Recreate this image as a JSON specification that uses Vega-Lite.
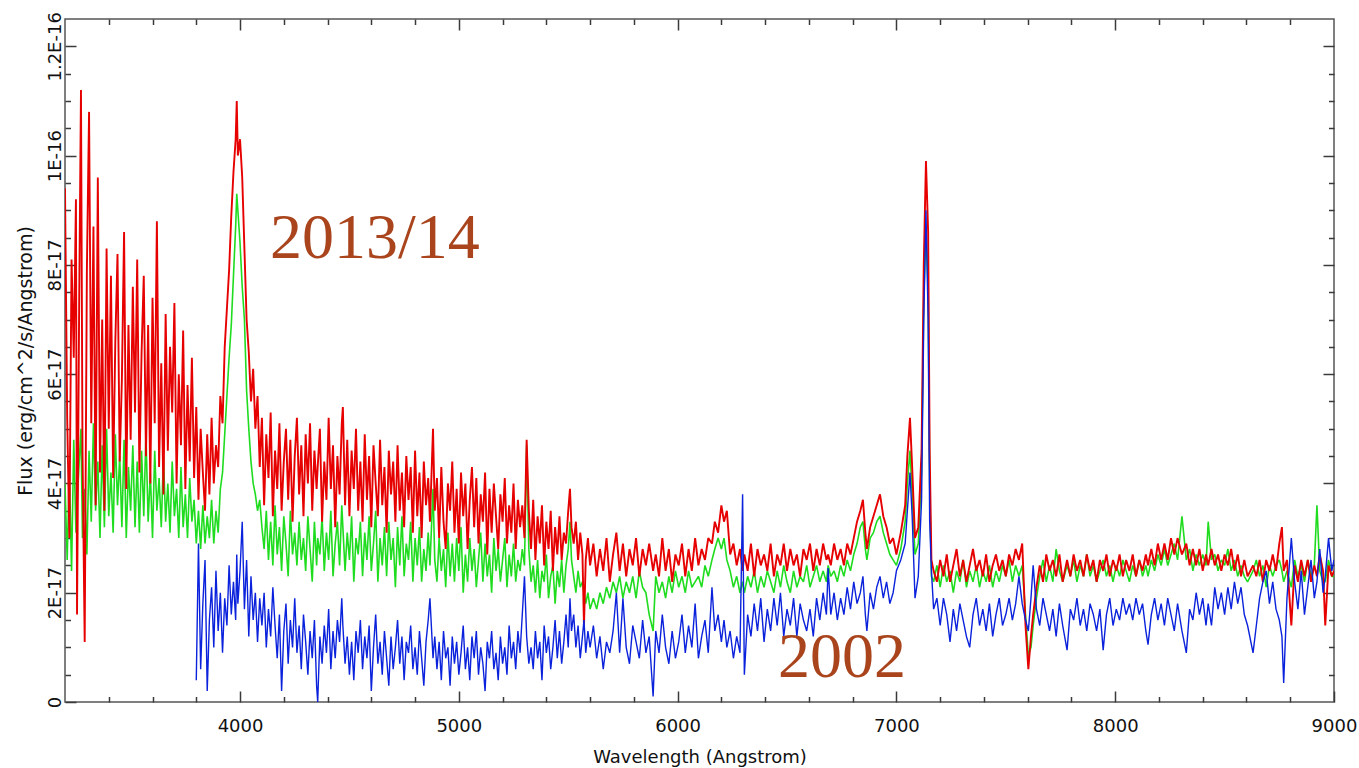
{
"$schema": "https://vega.github.io/schema/vega-lite/v6.json",
"width": 1269, "height": 683,
"autosize": {"type": "none"},
"padding": {"left": 65, "top": 19, "right": 25, "bottom": 66},
"background": "white",
"config": {
 "view": {"stroke": "#555555", "strokeWidth": 1.5},
 "axis": {"grid": false, "domain": false, "tickColor": "#3a3a3a", "tickWidth": 1.5, "labelFont": "DejaVu Sans", "labelFontSize": 18, "labelColor": "#111111", "titleFont": "DejaVu Sans", "titleFontSize": 18, "titleFontWeight": "normal", "titleColor": "#111111", "labelOverlap": false, "labelFlush": false, "labelBound": false}
},
"data": {"values": [
{"w":3200,"r":9.4,"g":4.0},{"w":3210,"r":5.2,"g":2.6},{"w":3220,"r":3.0,"g":4.3},{"w":3230,"r":8.1,"g":2.4},{"w":3240,"r":6.3,"g":4.8},{"w":3250,"r":9.2,"g":3.1},{"w":3255,"r":1.6,"g":3.6},{"w":3265,"r":7.4,"g":4.4},{"w":3273,"r":11.2,"g":5.0},{"w":3280,"r":4.6,"g":3.0},{"w":3290,"r":1.1,"g":3.9},{"w":3300,"r":7.9,"g":2.7},{"w":3310,"r":10.8,"g":4.6},{"w":3320,"r":5.1,"g":3.3},{"w":3330,"r":8.7,"g":5.1},{"w":3340,"r":3.6,"g":3.5},{"w":3350,"r":9.6,"g":4.4},{"w":3360,"r":4.2,"g":3.0},{"w":3370,"r":7.0,"g":4.7},{"w":3380,"r":3.5,"g":3.2},{"w":3390,"r":8.3,"g":5.0},{"w":3400,"r":5.0,"g":3.4},
{"w":3410,"r":7.8,"g":4.2},{"w":3420,"r":4.1,"g":3.1},{"w":3430,"r":6.6,"g":4.9},{"w":3440,"r":8.2,"g":3.6},{"w":3450,"r":4.4,"g":4.5},{"w":3460,"r":5.9,"g":3.2},{"w":3470,"r":8.6,"g":4.8},{"w":3480,"r":3.9,"g":3.0},{"w":3490,"r":6.9,"g":4.3},{"w":3500,"r":4.8,"g":3.5},{"w":3510,"r":7.6,"g":4.7},{"w":3520,"r":5.3,"g":3.2},{"w":3530,"r":8.1,"g":4.4},{"w":3540,"r":4.2,"g":3.1},{"w":3550,"r":6.4,"g":4.6},{"w":3560,"r":7.8,"g":3.4},{"w":3570,"r":4.5,"g":4.9},{"w":3580,"r":6.9,"g":3.3},{"w":3590,"r":4.0,"g":4.2},{"w":3600,"r":7.4,"g":3.0},{"w":3610,"r":5.1,"g":4.6},{"w":3620,"r":8.8,"g":3.5},{"w":3630,"r":4.3,"g":4.1},{"w":3640,"r":6.2,"g":3.2},{"w":3650,"r":3.8,"g":4.5},{"w":3660,"r":7.1,"g":3.3},{"w":3670,"r":4.6,"g":4.0},{"w":3680,"r":6.5,"g":3.1},{"w":3690,"r":5.3,"g":4.4},{"w":3700,"r":7.3,"g":3.4},{"w":3710,"r":4.0,"g":3.9},{"w":3720,"r":6.0,"g":3.0},{"w":3730,"r":4.7,"g":4.3},{"w":3740,"r":6.8,"g":3.2},{"w":3750,"r":3.9,"g":3.8},{"w":3760,"r":5.8,"g":3.0},{"w":3770,"r":4.4,"g":4.1},{"w":3780,"r":6.3,"g":3.3},{"w":3790,"r":4.1,"g":3.7},
{"w":3800,"r":5.4,"g":2.9,"b":0.4},{"w":3810,"r":3.7,"g":3.5,"b":2.9},{"w":3820,"r":5.0,"g":2.8,"b":0.6},{"w":3830,"r":4.2,"g":3.6,"b":1.8},{"w":3840,"r":3.5,"g":2.9,"b":2.6},{"w":3850,"r":4.9,"g":3.4,"b":0.2},{"w":3860,"r":3.8,"g":3.0,"b":1.5},{"w":3870,"r":5.2,"g":3.7,"b":2.1},{"w":3880,"r":4.0,"g":2.9,"b":1.0},{"w":3890,"r":4.7,"g":3.5,"b":2.4},{"w":3900,"r":4.3,"g":3.1,"b":1.3},{"w":3910,"r":5.6,"g":3.9,"b":2.0},{"w":3920,"r":5.1,"g":4.2,"b":0.9},{"w":3930,"r":6.5,"g":4.9,"b":1.9},{"w":3940,"r":7.2,"g":5.6,"b":1.4},{"w":3950,"r":7.9,"g":6.3,"b":2.5},{"w":3960,"r":8.9,"g":6.9,"b":1.6},{"w":3970,"r":9.7,"g":7.8,"b":2.2},{"w":3980,"r":10.3,"g":8.7,"b":1.5},{"w":3985,"r":11.0,"g":9.3,"b":2.7},{"w":3990,"r":10.0,"g":9.0,"b":1.8},{"w":4000,"r":10.3,"g":8.4,"b":2.4},{"w":4010,"r":9.6,"g":7.6,"b":3.3},{"w":4020,"r":8.3,"g":7.0,"b":1.7},{"w":4030,"r":7.0,"g":5.7,"b":2.6},{"w":4040,"r":6.4,"g":5.0,"b":1.2},{"w":4050,"r":5.5,"g":4.4,"b":2.3},{"w":4060,"r":6.1,"g":4.0,"b":1.5},{"w":4070,"r":5.0,"g":3.8,"b":2.0},{"w":4080,"r":5.6,"g":3.5,"b":1.1},{"w":4090,"r":4.3,"g":3.7,"b":1.9},{"w":4100,"r":5.2,"g":3.2,"b":1.4},
{"w":4110,"r":3.6,"g":2.8,"b":2.0},{"w":4120,"r":4.9,"g":3.5,"b":1.0},{"w":4130,"r":4.1,"g":2.6,"b":1.7},{"w":4140,"r":5.3,"g":3.3,"b":1.2},{"w":4150,"r":3.4,"g":2.5,"b":2.1},{"w":4160,"r":4.6,"g":3.6,"b":1.4},{"w":4170,"r":3.9,"g":2.7,"b":0.8},{"w":4180,"r":5.1,"g":3.2,"b":1.6},{"w":4190,"r":3.5,"g":2.4,"b":0.2},{"w":4200,"r":4.4,"g":3.4,"b":1.3},{"w":4210,"r":5.0,"g":2.9,"b":1.8},{"w":4220,"r":3.7,"g":2.3,"b":0.7},{"w":4230,"r":4.8,"g":3.5,"b":1.5},{"w":4240,"r":3.3,"g":2.7,"b":1.0},{"w":4250,"r":4.5,"g":3.1,"b":1.9},{"w":4260,"r":5.2,"g":2.5,"b":0.9},{"w":4270,"r":3.8,"g":3.3,"b":1.4},{"w":4280,"r":4.7,"g":2.6,"b":0.6},{"w":4290,"r":3.4,"g":3.0,"b":1.6},{"w":4300,"r":4.9,"g":2.4,"b":1.1},{"w":4310,"r":4.0,"g":3.4,"b":0.5},{"w":4320,"r":5.1,"g":2.8,"b":1.3},{"w":4330,"r":3.5,"g":2.2,"b":0.8},{"w":4340,"r":4.6,"g":3.3,"b":1.5},{"w":4350,"r":3.9,"g":2.5,"b":0.3},{"w":4355,"r":4.3,"g":3.0,"b":0.0},{"w":4365,"r":5.0,"g":2.7,"b":1.2},{"w":4375,"r":3.3,"g":3.4,"b":0.7},{"w":4385,"r":4.4,"g":2.4,"b":1.4},{"w":4395,"r":3.7,"g":3.1,"b":0.9},{"w":4405,"r":5.2,"g":2.6,"b":1.7},{"w":4415,"r":3.9,"g":3.5,"b":0.6},{"w":4425,"r":4.7,"g":2.3,"b":1.3},{"w":4435,"r":3.2,"g":2.9,"b":0.8},{"w":4445,"r":4.5,"g":3.3,"b":1.5},{"w":4455,"r":3.8,"g":2.5,"b":1.1},{"w":4465,"r":5.1,"g":3.6,"b":1.9},{"w":4470,"r":5.4,"g":3.2,"b":1.4},{"w":4480,"r":3.6,"g":2.4,"b":0.7},{"w":4490,"r":4.8,"g":3.1,"b":1.2},{"w":4500,"r":3.4,"g":2.6,"b":0.5},{"w":4510,"r":4.6,"g":3.4,"b":1.1},{"w":4520,"r":3.9,"g":2.2,"b":0.4},{"w":4530,"r":5.0,"g":3.0,"b":1.3},{"w":4540,"r":3.5,"g":2.7,"b":0.9},{"w":4550,"r":4.4,"g":3.3,"b":1.5},{"w":4560,"r":3.3,"g":2.3,"b":0.6},{"w":4570,"r":4.9,"g":3.1,"b":1.2},{"w":4580,"r":3.7,"g":2.6,"b":0.8},{"w":4590,"r":4.5,"g":3.4,"b":1.4},{"w":4600,"r":3.2,"g":2.4,"b":0.2},{"w":4610,"r":4.7,"g":2.9,"b":1.0},{"w":4620,"r":4.0,"g":3.5,"b":1.6},{"w":4630,"r":3.4,"g":2.2,"b":0.7},{"w":4640,"r":4.8,"g":3.0,"b":1.1},{"w":4650,"r":3.6,"g":2.5,"b":0.5},{"w":4660,"r":4.3,"g":3.2,"b":1.3},{"w":4670,"r":3.1,"g":2.3,"b":0.8},{"w":4680,"r":4.6,"g":3.3,"b":0.3},{"w":4690,"r":3.8,"g":2.6,"b":1.2},{"w":4700,"r":4.4,"g":3.0,"b":0.6},{"w":4710,"r":3.3,"g":2.1,"b":1.0},{"w":4720,"r":4.7,"g":3.2,"b":1.5},{"w":4730,"r":3.5,"g":2.5,"b":0.7},{"w":4740,"r":4.2,"g":3.4,"b":1.2},{"w":4750,"r":3.2,"g":2.3,"b":0.4},{"w":4760,"r":4.5,"g":2.9,"b":1.1},{"w":4770,"r":3.7,"g":2.6,"b":0.9},{"w":4780,"r":4.3,"g":3.3,"b":1.4},{"w":4790,"r":3.1,"g":2.2,"b":0.6},{"w":4800,"r":4.6,"g":3.0,"b":1.0},{"w":4810,"r":3.4,"g":2.5,"b":0.5},{"w":4820,"r":4.2,"g":3.2,"b":1.3},{"w":4830,"r":3.0,"g":2.2,"b":0.8},{"w":4840,"r":4.4,"g":2.8,"b":0.3},{"w":4850,"r":3.6,"g":2.4,"b":1.1},{"w":4860,"r":4.1,"g":3.1,"b":1.5},{"w":4868,"r":3.3,"g":2.5,"b":1.9},{"w":4882,"r":5.0,"g":3.9,"b":0.8},{"w":4890,"r":3.5,"g":2.6,"b":1.2},
{"w":4900,"r":4.1,"g":2.2,"b":0.6},{"w":4910,"r":3.0,"g":3.0,"b":1.1},{"w":4920,"r":4.3,"g":2.4,"b":0.4},{"w":4930,"r":3.3,"g":2.8,"b":1.3},{"w":4940,"r":2.8,"g":2.1,"b":0.8},{"w":4950,"r":4.0,"g":3.1,"b":1.0},{"w":4960,"r":3.5,"g":2.3,"b":0.3},{"w":4970,"r":4.4,"g":2.9,"b":1.2},{"w":4980,"r":3.1,"g":2.2,"b":0.7},{"w":4990,"r":3.9,"g":3.0,"b":1.1},{"w":5000,"r":2.9,"g":2.4,"b":0.5},{"w":5010,"r":4.2,"g":3.2,"b":0.9},{"w":5020,"r":3.4,"g":2.0,"b":1.4},{"w":5030,"r":4.0,"g":2.7,"b":0.6},{"w":5040,"r":2.8,"g":2.2,"b":1.0},{"w":5050,"r":3.7,"g":3.0,"b":0.4},{"w":5060,"r":4.3,"g":2.4,"b":1.2},{"w":5070,"r":3.2,"g":2.8,"b":0.8},{"w":5080,"r":4.1,"g":2.1,"b":1.3},{"w":5090,"r":2.9,"g":2.6,"b":0.5},{"w":5100,"r":3.8,"g":3.1,"b":1.0},{"w":5110,"r":3.3,"g":2.2,"b":0.7},{"w":5120,"r":4.2,"g":2.9,"b":0.2},{"w":5130,"r":2.7,"g":2.3,"b":1.1},{"w":5140,"r":3.9,"g":2.7,"b":0.8},{"w":5150,"r":3.1,"g":2.0,"b":1.3},{"w":5160,"r":4.0,"g":3.0,"b":0.6},{"w":5170,"r":3.4,"g":2.4,"b":0.9},{"w":5180,"r":2.8,"g":2.8,"b":0.4},{"w":5190,"r":3.8,"g":2.2,"b":1.2},{"w":5200,"r":3.3,"g":2.6,"b":0.7},{"w":5210,"r":4.1,"g":3.0,"b":1.0},{"w":5220,"r":2.9,"g":2.1,"b":0.5},{"w":5230,"r":3.6,"g":2.7,"b":1.4},{"w":5240,"r":3.1,"g":2.3,"b":0.8},{"w":5250,"r":4.0,"g":2.9,"b":1.1},{"w":5260,"r":2.8,"g":2.2,"b":0.6},{"w":5270,"r":3.7,"g":2.6,"b":1.3},{"w":5280,"r":3.2,"g":2.4,"b":0.9},{"w":5290,"r":3.6,"g":2.8,"b":1.6},{"w":5300,"r":3.0,"g":2.5,"b":2.3},{"w":5310,"r":4.8,"g":4.7,"b":1.2},{"w":5320,"r":3.5,"g":2.8,"b":0.7},
{"w":5330,"r":2.8,"g":2.2,"b":1.0},{"w":5340,"r":3.7,"g":2.5,"b":0.6},{"w":5350,"r":2.6,"g":2.0,"b":1.3},{"w":5360,"r":3.4,"g":2.6,"b":0.8},{"w":5370,"r":2.9,"g":1.9,"b":1.1},{"w":5380,"r":3.6,"g":2.4,"b":0.4},{"w":5390,"r":2.5,"g":2.2,"b":1.4},{"w":5400,"r":3.3,"g":2.7,"b":0.9},{"w":5410,"r":2.8,"g":1.9,"b":1.2},{"w":5420,"r":3.5,"g":2.3,"b":0.6},{"w":5430,"r":2.4,"g":2.5,"b":1.0},{"w":5440,"r":3.2,"g":1.8,"b":1.5},{"w":5450,"r":2.7,"g":2.4,"b":0.8},{"w":5460,"r":3.4,"g":2.1,"b":1.3},{"w":5470,"r":2.6,"g":2.6,"b":0.7},{"w":5480,"r":3.1,"g":2.0,"b":1.1},{"w":5490,"r":2.9,"g":2.5,"b":1.6},{"w":5500,"r":3.5,"g":2.8,"b":1.0},{"w":5508,"r":3.9,"g":3.3,"b":1.9},{"w":5515,"r":3.2,"g":2.6,"b":1.3},{"w":5525,"r":2.9,"g":2.3,"b":1.6},{"w":5535,"r":3.3,"g":2.0,"b":1.0},{"w":5545,"r":2.6,"g":2.4,"b":1.4},{"w":5555,"r":3.1,"g":2.1,"b":0.8},{"w":5565,"r":2.7,"g":2.2,"b":1.2},{"w":5572,"r":1.4,"g":2.0,"b":1.5},{"w":5580,"r":2.6,"g":1.8,"b":0.9},{"w":5590,"r":3.0,"g":2.0,"b":1.3},{"w":5600,"r":2.5,"g":1.7,"b":1.0},
{"w":5615,"r":2.9,"g":1.9,"b":1.4},{"w":5630,"r":2.3,"g":1.7,"b":0.8},{"w":5645,"r":2.8,"g":2.0,"b":1.2},{"w":5660,"r":2.4,"g":1.8,"b":0.6},{"w":5675,"r":3.0,"g":2.1,"b":1.1},{"w":5690,"r":2.2,"g":1.9,"b":0.9},{"w":5705,"r":2.7,"g":2.2,"b":1.3},{"w":5720,"r":3.1,"g":2.0,"b":2.0},{"w":5735,"r":2.4,"g":2.3,"b":0.9},{"w":5750,"r":2.9,"g":1.9,"b":1.9},{"w":5765,"r":2.3,"g":2.2,"b":1.0},{"w":5780,"r":2.8,"g":2.0,"b":0.7},{"w":5795,"r":2.5,"g":2.3,"b":1.4},{"w":5810,"r":3.0,"g":1.9,"b":1.1},{"w":5825,"r":2.3,"g":2.4,"b":0.8},{"w":5840,"r":2.8,"g":2.1,"b":1.5},{"w":5855,"r":2.5,"g":2.0,"b":0.9},{"w":5870,"r":2.9,"g":1.6,"b":1.2},{"w":5888,"r":2.4,"g":1.3,"b":0.1},{"w":5900,"r":2.7,"g":2.3,"b":1.3},{"w":5915,"r":2.3,"g":2.0,"b":0.9},{"w":5930,"r":3.0,"g":2.2,"b":1.6},{"w":5945,"r":2.4,"g":1.9,"b":1.0},{"w":5960,"r":2.8,"g":2.3,"b":0.7},{"w":5975,"r":2.2,"g":2.0,"b":1.3},{"w":5990,"r":2.7,"g":2.4,"b":0.8},{"w":6005,"r":2.5,"g":2.1,"b":1.1},{"w":6020,"r":2.9,"g":2.3,"b":1.6},{"w":6035,"r":2.3,"g":2.0,"b":0.9},{"w":6050,"r":2.8,"g":2.4,"b":1.4},{"w":6065,"r":2.4,"g":2.1,"b":1.0},{"w":6080,"r":3.0,"g":2.2,"b":1.8},{"w":6095,"r":2.5,"g":2.3,"b":0.8},{"w":6110,"r":2.8,"g":2.1,"b":1.2},{"w":6125,"r":2.6,"g":2.5,"b":1.5},{"w":6140,"r":3.0,"g":2.3,"b":0.9},{"w":6157,"r":2.9,"g":2.6,"b":2.1},{"w":6170,"r":3.3,"g":2.8,"b":1.3},{"w":6185,"r":3.1,"g":3.0,"b":1.6},{"w":6200,"r":3.6,"g":2.8,"b":1.1},{"w":6212,"r":3.3,"g":3.0,"b":1.5},{"w":6225,"r":3.5,"g":2.6,"b":1.0},{"w":6240,"r":2.7,"g":2.4,"b":1.3},{"w":6255,"r":2.9,"g":2.1,"b":0.8},{"w":6270,"r":2.5,"g":2.3,"b":1.2},{"w":6285,"r":2.8,"g":2.0,"b":0.9},{"w":6297,"r":2.4,"g":2.2,"b":3.8},{"w":6305,"r":2.7,"g":2.0,"b":0.5},{"w":6320,"r":2.4,"g":2.3,"b":1.6},{"w":6335,"r":2.9,"g":2.1,"b":1.2},{"w":6350,"r":2.3,"g":2.4,"b":1.8},{"w":6365,"r":2.8,"g":2.0,"b":1.3},{"w":6380,"r":2.5,"g":2.3,"b":1.9},{"w":6395,"r":2.7,"g":2.1,"b":1.1},{"w":6410,"r":2.4,"g":2.4,"b":1.7},{"w":6425,"r":2.9,"g":2.2,"b":1.3},{"w":6440,"r":2.3,"g":2.0,"b":1.9},{"w":6455,"r":2.7,"g":2.4,"b":1.4},{"w":6470,"r":2.5,"g":2.1,"b":2.0},{"w":6485,"r":2.9,"g":2.5,"b":1.2},{"w":6500,"r":2.4,"g":2.2,"b":1.7},{"w":6515,"r":2.8,"g":2.0,"b":1.4},{"w":6530,"r":2.5,"g":2.4,"b":1.9},{"w":6545,"r":2.7,"g":2.1,"b":1.2},{"w":6560,"r":2.3,"g":2.3,"b":1.8},{"w":6575,"r":2.8,"g":2.2,"b":1.5},{"w":6590,"r":2.6,"g":2.5,"b":1.3},{"w":6605,"r":2.9,"g":2.1,"b":1.7},{"w":6620,"r":2.4,"g":2.3,"b":1.2},{"w":6635,"r":2.8,"g":2.5,"b":1.9},{"w":6650,"r":2.5,"g":2.2,"b":1.5},{"w":6665,"r":2.9,"g":2.4,"b":2.0},{"w":6680,"r":2.6,"g":2.2,"b":1.6},{"w":6688,"r":2.7,"g":2.5,"b":2.45},{"w":6700,"r":2.5,"g":2.3,"b":1.6},{"w":6715,"r":2.9,"g":2.4,"b":2.0},{"w":6730,"r":2.6,"g":2.2,"b":1.5},{"w":6745,"r":2.8,"g":2.5,"b":1.9},{"w":6760,"r":2.5,"g":2.3,"b":1.6},{"w":6775,"r":2.9,"g":2.6,"b":2.1},{"w":6790,"r":2.7,"g":2.4,"b":1.7},{"w":6805,"r":3.0,"g":2.7,"b":2.2},{"w":6820,"r":3.3,"g":2.9,"b":1.8},{"w":6835,"r":3.5,"g":3.2,"b":2.0},{"w":6847,"r":3.7,"g":3.3,"b":2.3},{"w":6858,"r":3.1,"g":2.8,"b":1.6},{"w":6865,"r":2.8,"g":2.6,"b":1.3},{"w":6880,"r":3.2,"g":3.0,"b":2.0},{"w":6895,"r":3.4,"g":3.1,"b":1.7},{"w":6910,"r":3.6,"g":3.3,"b":2.1},{"w":6925,"r":3.8,"g":3.4,"b":2.3},{"w":6940,"r":3.4,"g":3.1,"b":1.9},{"w":6955,"r":3.2,"g":2.9,"b":2.2},{"w":6970,"r":2.9,"g":2.7,"b":1.8},{"w":6985,"r":3.0,"g":2.6,"b":2.0},{"w":7000,"r":2.7,"g":2.5,"b":2.4},
{"w":7020,"r":3.1,"g":2.8,"b":2.6},{"w":7040,"r":3.6,"g":3.3,"b":2.9},{"w":7050,"r":4.5,"g":4.0,"b":3.5},{"w":7062,"r":5.2,"g":4.6,"b":4.2},{"w":7072,"r":4.3,"g":3.8,"b":3.4},{"w":7085,"r":3.0,"g":2.7,"b":1.9},{"w":7100,"r":3.2,"g":2.9,"b":2.3},{"w":7115,"r":4.6,"g":4.2,"b":3.7},{"w":7125,"r":8.0,"g":7.4,"b":7.0},{"w":7135,"r":9.9,"g":8.6,"b":9.0},{"w":7145,"r":8.6,"g":7.6,"b":7.0},{"w":7152,"r":4.6,"g":4.0,"b":3.3},{"w":7160,"r":2.6,"g":2.3,"b":2.4},{"w":7170,"r":2.4,"g":2.2,"b":1.7},{"w":7185,"r":2.2,"g":2.5,"b":1.9},
{"w":7200,"r":2.6,"g":2.1,"b":1.4},{"w":7215,"r":2.3,"g":2.5,"b":1.9},{"w":7230,"r":2.7,"g":2.2,"b":1.6},{"w":7245,"r":2.2,"g":2.4,"b":1.1},{"w":7260,"r":2.5,"g":2.0,"b":1.7},{"w":7275,"r":2.8,"g":2.4,"b":1.3},{"w":7290,"r":2.3,"g":2.2,"b":1.8},{"w":7305,"r":2.6,"g":2.6,"b":1.5},{"w":7320,"r":2.2,"g":2.1,"b":1.2},{"w":7335,"r":2.5,"g":2.4,"b":1.0},{"w":7350,"r":2.8,"g":2.2,"b":1.6},{"w":7365,"r":2.4,"g":2.5,"b":1.9},{"w":7380,"r":2.6,"g":2.1,"b":1.4},{"w":7395,"r":2.3,"g":2.4,"b":1.7},{"w":7410,"r":2.7,"g":2.2,"b":1.3},{"w":7425,"r":2.2,"g":2.5,"b":1.8},{"w":7440,"r":2.5,"g":2.1,"b":1.2},{"w":7455,"r":2.7,"g":2.4,"b":1.6},{"w":7470,"r":2.4,"g":2.2,"b":1.9},{"w":7485,"r":2.6,"g":2.5,"b":1.4},{"w":7500,"r":2.3,"g":2.3,"b":1.6},{"w":7515,"r":2.7,"g":2.6,"b":1.9},{"w":7530,"r":2.5,"g":2.2,"b":1.5},{"w":7545,"r":2.8,"g":2.5,"b":1.8},{"w":7560,"r":2.6,"g":2.3,"b":2.3},{"w":7575,"r":2.9,"g":2.5,"b":1.8},{"w":7590,"r":1.4,"g":1.6,"b":1.5},{"w":7603,"r":0.6,"g":0.85,"b":1.3},{"w":7615,"r":1.2,"g":1.0,"b":1.9},{"w":7625,"r":1.6,"g":1.4,"b":2.5},{"w":7640,"r":2.1,"g":1.9,"b":1.7},{"w":7655,"r":2.5,"g":2.3,"b":1.4},{"w":7670,"r":2.2,"g":2.6,"b":1.9},{"w":7685,"r":2.7,"g":2.2,"b":1.6},{"w":7700,"r":2.4,"g":2.5,"b":1.3},{"w":7715,"r":2.6,"g":2.2,"b":1.7},{"w":7730,"r":2.3,"g":2.8,"b":1.2},{"w":7745,"r":2.7,"g":2.4,"b":1.8},{"w":7760,"r":2.2,"g":2.2,"b":1.4},{"w":7780,"r":2.6,"g":2.5,"b":0.95},{"w":7795,"r":2.3,"g":2.3,"b":1.7},{"w":7810,"r":2.7,"g":2.6,"b":1.5},{"w":7825,"r":2.4,"g":2.2,"b":1.9},{"w":7840,"r":2.6,"g":2.5,"b":1.4},{"w":7855,"r":2.3,"g":2.3,"b":1.7},{"w":7870,"r":2.7,"g":2.7,"b":1.3},{"w":7885,"r":2.4,"g":2.3,"b":1.8},{"w":7900,"r":2.6,"g":2.5,"b":1.6},{"w":7915,"r":2.2,"g":2.2,"b":1.3},{"w":7930,"r":2.6,"g":2.4,"b":1.7},{"w":7945,"r":2.4,"g":2.6,"b":0.95},{"w":7960,"r":2.7,"g":2.3,"b":1.6},{"w":7975,"r":2.3,"g":2.5,"b":1.9},{"w":7990,"r":2.6,"g":2.2,"b":1.4},
{"w":8005,"r":2.4,"g":2.5,"b":1.7},{"w":8020,"r":2.7,"g":2.3,"b":1.5},{"w":8035,"r":2.3,"g":2.6,"b":1.9},{"w":8050,"r":2.6,"g":2.4,"b":1.6},{"w":8065,"r":2.4,"g":2.2,"b":1.8},{"w":8080,"r":2.7,"g":2.5,"b":1.5},{"w":8095,"r":2.3,"g":2.3,"b":1.9},{"w":8110,"r":2.6,"g":2.6,"b":1.6},{"w":8125,"r":2.4,"g":2.3,"b":1.8},{"w":8140,"r":2.7,"g":2.5,"b":1.3},{"w":8150,"r":2.5,"g":2.3,"b":1.05},{"w":8165,"r":2.8,"g":2.6,"b":1.6},{"w":8180,"r":2.5,"g":2.4,"b":1.9},{"w":8195,"r":2.9,"g":2.7,"b":1.5},{"w":8210,"r":2.6,"g":2.5,"b":1.8},{"w":8225,"r":2.9,"g":2.8,"b":1.4},{"w":8240,"r":2.6,"g":2.5,"b":1.9},{"w":8255,"r":3.0,"g":2.7,"b":1.6},{"w":8270,"r":2.7,"g":2.9,"b":1.3},{"w":8285,"r":3.0,"g":2.6,"b":1.8},{"w":8305,"r":2.7,"g":3.4,"b":1.3},{"w":8325,"r":2.9,"g":2.6,"b":0.9},{"w":8340,"r":2.5,"g":2.8,"b":1.7},{"w":8355,"r":2.8,"g":2.4,"b":1.5},{"w":8370,"r":2.5,"g":2.7,"b":2.0},{"w":8385,"r":2.8,"g":2.5,"b":1.6},{"w":8400,"r":2.4,"g":2.7,"b":1.9},{"w":8415,"r":2.7,"g":2.5,"b":1.4},{"w":8425,"r":2.5,"g":3.3,"b":1.8},{"w":8440,"r":2.8,"g":2.6,"b":1.4},{"w":8455,"r":2.5,"g":2.7,"b":2.1},{"w":8470,"r":2.7,"g":2.4,"b":1.7},{"w":8485,"r":2.4,"g":2.6,"b":2.0},{"w":8500,"r":2.7,"g":2.5,"b":1.6},{"w":8515,"r":2.5,"g":2.8,"b":2.1},{"w":8530,"r":2.8,"g":2.4,"b":1.7},{"w":8545,"r":2.4,"g":2.6,"b":2.2},{"w":8560,"r":2.7,"g":2.3,"b":1.8},{"w":8575,"r":2.3,"g":2.5,"b":2.1},{"w":8590,"r":2.6,"g":2.3,"b":1.6},{"w":8605,"r":2.3,"g":2.2,"b":1.4},{"w":8630,"r":2.5,"g":2.4,"b":0.9},{"w":8645,"r":2.3,"g":2.6,"b":1.4},{"w":8660,"r":2.6,"g":2.3,"b":1.9},{"w":8675,"r":2.2,"g":2.5,"b":2.2},{"w":8690,"r":2.6,"g":2.1,"b":2.4},{"w":8705,"r":2.4,"g":2.5,"b":1.8},{"w":8720,"r":2.7,"g":2.3,"b":2.2},{"w":8735,"r":2.4,"g":2.5,"b":1.7},{"w":8750,"r":2.9,"g":2.6,"b":1.5},{"w":8762,"r":3.2,"g":2.4,"b":1.2},{"w":8770,"r":2.4,"g":2.2,"b":0.35},{"w":8785,"r":2.6,"g":2.4,"b":1.9},{"w":8805,"r":1.4,"g":2.1,"b":3.0},{"w":8820,"r":2.5,"g":2.6,"b":2.2},{"w":8835,"r":2.2,"g":2.3,"b":1.7},{"w":8850,"r":2.6,"g":2.5,"b":2.4},{"w":8865,"r":2.3,"g":2.2,"b":1.6},{"w":8880,"r":2.6,"g":2.6,"b":2.1},{"w":8895,"r":2.2,"g":2.3,"b":2.6},{"w":8910,"r":2.5,"g":2.5,"b":1.9},{"w":8922,"r":2.3,"g":3.6,"b":2.2},{"w":8935,"r":2.7,"g":2.4,"b":2.8},{"w":8950,"r":2.4,"g":2.2,"b":2.0},{"w":8960,"r":1.4,"g":2.2,"b":2.3},{"w":8975,"r":2.5,"g":2.6,"b":3.0},{"w":8990,"r":2.3,"g":2.3,"b":2.4},{"w":9000,"r":2.4,"g":2.3,"b":2.6}
]},
"resolve": {"axis": {"x": "independent", "y": "independent"}},
"layer": [
 {
  "mark": {"type": "line", "color": "#1fdc1f", "strokeWidth": 1.6, "strokeJoin": "bevel", "invalid": "filter", "clip": true},
  "encoding": {
   "x": {"field": "w", "type": "quantitative", "scale": {"domain": [3200, 9000], "nice": false, "zero": false},
     "axis": {"orient": "bottom", "values": [4000, 5000, 6000, 7000, 8000, 9000], "tickSize": -11, "labelPadding": 26, "format": "d", "title": "Wavelength (Angstrom)", "titlePadding": 13}},
   "y": {"field": "g", "type": "quantitative", "scale": {"domain": [0, 12.5], "nice": false, "zero": false},
     "axis": {"orient": "left", "values": [0, 2, 4, 6, 8, 10, 12], "tickSize": -11, "labelPadding": 16, "labelAngle": 270, "labelAlign": "center", "labelBaseline": "alphabetic",
       "labelExpr": "datum.value == 0 ? '0' : (datum.value >= 10 ? (datum.value / 10) + 'E-16' : datum.value + 'E-17')",
       "title": "Flux (erg/cm^2/s/Angstrom)", "titleFontSize": 19, "titlePadding": 11}}
  }
 },
 {
  "mark": {"type": "line", "color": "#e60000", "strokeWidth": 1.9, "strokeJoin": "bevel", "invalid": "filter", "clip": true},
  "encoding": {
   "x": {"field": "w", "type": "quantitative", "scale": {"domain": [3200, 9000], "nice": false, "zero": false},
     "axis": {"orient": "bottom", "values": [3400, 3600, 3800, 4200, 4400, 4600, 4800, 5200, 5400, 5600, 5800, 6200, 6400, 6600, 6800, 7200, 7400, 7600, 7800, 8200, 8400, 8600, 8800], "tickSize": -5.5, "labels": false, "title": null}},
   "y": {"field": "r", "type": "quantitative", "scale": {"domain": [0, 12.5], "nice": false, "zero": false},
     "axis": {"orient": "left", "values": [0.5, 1, 1.5, 2.5, 3, 3.5, 4.5, 5, 5.5, 6.5, 7, 7.5, 8.5, 9, 9.5, 10.5, 11, 11.5], "tickSize": -5.5, "labels": false, "title": null}}
  }
 },
 {
  "mark": {"type": "line", "color": "#0a22dc", "strokeWidth": 1.4, "strokeJoin": "bevel", "invalid": "filter", "clip": true},
  "encoding": {
   "x": {"field": "w", "type": "quantitative", "scale": {"domain": [3200, 9000], "nice": false, "zero": false},
     "axis": {"orient": "top", "values": [4000, 5000, 6000, 7000, 8000], "tickSize": -11, "labels": false, "title": null}},
   "y": {"field": "b", "type": "quantitative", "scale": {"domain": [0, 12.5], "nice": false, "zero": false},
     "axis": {"orient": "right", "values": [2, 4, 6, 8, 10, 12], "tickSize": -11, "labels": false, "title": null}}
  }
 },
 {
  "data": {"values": [
   {"label": "2013/14", "lw": 4137, "lf": 8.13},
   {"label": "2002", "lw": 6459, "lf": 0.46}
  ]},
  "mark": {"type": "text", "font": "Liberation Serif", "fontSize": 64, "color": "#a9441c", "align": "left", "baseline": "alphabetic"},
  "encoding": {
   "text": {"field": "label"},
   "x": {"field": "lw", "type": "quantitative", "scale": {"domain": [3200, 9000], "nice": false, "zero": false},
     "axis": {"orient": "top", "values": [3400, 3600, 3800, 4200, 4400, 4600, 4800, 5200, 5400, 5600, 5800, 6200, 6400, 6600, 6800, 7200, 7400, 7600, 7800, 8200, 8400, 8600, 8800], "tickSize": -5.5, "labels": false, "title": null}},
   "y": {"field": "lf", "type": "quantitative", "scale": {"domain": [0, 12.5], "nice": false, "zero": false},
     "axis": {"orient": "right", "values": [0.5, 1, 1.5, 2.5, 3, 3.5, 4.5, 5, 5.5, 6.5, 7, 7.5, 8.5, 9, 9.5, 10.5, 11, 11.5], "tickSize": -5.5, "labels": false, "title": null}}
  }
 }
]
}
